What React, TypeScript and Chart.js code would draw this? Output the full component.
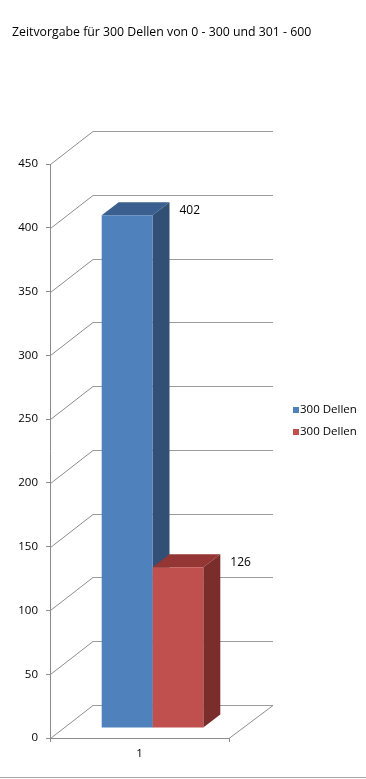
import React, { useEffect, useRef } from "react";
import { Chart, registerables } from "chart.js";

Chart.register(...registerables);

const TITLE = "Zeitvorgabe für 300 Dellen von 0 - 300 und 301 - 600";
const CATEGORIES = ["1"];
const SERIES_LABELS = ["300 Dellen", "300 Dellen"];
const SERIES_A = [402];
const SERIES_B = [126];
const Y_MIN = 0;
const Y_MAX = 450;
const Y_STEP = 50;

const FRONT = ["#4F81BD", "#C0504D"];
const TOP = ["#3B5F8E", "#943634"];
const SIDE = ["#324F76", "#7B2D2B"];
const GRID = "#8C8C8C";
const GRID_BACK = "#9C9C9C";
const FONT = "'Open Sans', sans-serif";

// 3D geometry (pixels)
const WALL_DX = 43;
const WALL_DY = -33;
const BAR_SHIFT_X = 13;
const BAR_SHIFT_Y = -10;
const BAR_DX = 17;
const BAR_DY = -13;

const threeD = {
  id: "threeD",
  beforeDatasetsDraw(chart: any) {
    const { ctx, chartArea: a, scales } = chart;
    const y = scales.y;
    ctx.save();
    ctx.lineWidth = 1;
    for (const t of y.ticks) {
      const py = Math.round(y.getPixelForValue(t.value)) + 0.5;
      ctx.strokeStyle = GRID;
      ctx.beginPath();
      ctx.moveTo(a.left + 0.5, py);
      ctx.lineTo(a.left + WALL_DX, py + WALL_DY);
      ctx.stroke();
      ctx.strokeStyle = GRID_BACK;
      ctx.beginPath();
      ctx.moveTo(a.left + WALL_DX, py + WALL_DY);
      ctx.lineTo(a.right + WALL_DX + 1, py + WALL_DY);
      ctx.stroke();
    }
    const by = Math.round(y.getPixelForValue(Y_MIN)) + 0.5;
    ctx.strokeStyle = GRID;
    ctx.beginPath();
    ctx.moveTo(a.right, by);
    ctx.lineTo(a.right + WALL_DX + 1, by + WALL_DY);
    ctx.stroke();
    ctx.restore();

    ctx.save();
    ctx.translate(BAR_SHIFT_X, BAR_SHIFT_Y);
    chart.data.datasets.forEach((ds: any, i: number) => {
      const meta = chart.getDatasetMeta(i);
      meta.data.forEach((bar: any) => {
        const { x, y: top, base, width } = bar.getProps(["x", "y", "base", "width"], true);
        const l = x - width / 2;
        const r = x + width / 2;
        ctx.fillStyle = TOP[i];
        ctx.beginPath();
        ctx.moveTo(l, top);
        ctx.lineTo(r, top);
        ctx.lineTo(r + BAR_DX, top + BAR_DY);
        ctx.lineTo(l + BAR_DX, top + BAR_DY);
        ctx.closePath();
        ctx.fill();
        ctx.fillStyle = SIDE[i];
        ctx.beginPath();
        ctx.moveTo(r, top);
        ctx.lineTo(r + BAR_DX, top + BAR_DY);
        ctx.lineTo(r + BAR_DX, base + BAR_DY);
        ctx.lineTo(r, base);
        ctx.closePath();
        ctx.fill();
      });
    });
  },
  afterDatasetsDraw(chart: any) {
    const { ctx } = chart;
    ctx.fillStyle = "#000";
    ctx.font = `12px ${FONT}`;
    ctx.textAlign = "left";
    ctx.textBaseline = "middle";
    chart.data.datasets.forEach((ds: any, i: number) => {
      const meta = chart.getDatasetMeta(i);
      meta.data.forEach((bar: any, j: number) => {
        const { x, y: top, width } = bar.getProps(["x", "y", "width"], true);
        ctx.fillText(String(ds.data[j]), x + width / 2 + 27, top - 5);
      });
    });
    ctx.restore();

    // title
    ctx.save();
    ctx.fillStyle = "#000";
    ctx.font = `12.3px ${FONT}`;
    ctx.textAlign = "left";
    ctx.textBaseline = "middle";
    ctx.fillText(TITLE, 12, 32);

    // legend
    ctx.font = `11.5px ${FONT}`;
    chart.data.datasets.forEach((ds: any, i: number) => {
      const cy = 410 + i * 22;
      ctx.fillStyle = FRONT[i];
      ctx.fillRect(293, cy - 3, 6, 6);
      ctx.fillStyle = "#000";
      ctx.fillText(ds.label, 300, cy);
    });

    // bottom border
    ctx.strokeStyle = "#A6A6A6";
    ctx.lineWidth = 1;
    ctx.beginPath();
    ctx.moveTo(0, 777.5);
    ctx.lineTo(366, 777.5);
    ctx.stroke();
    ctx.restore();
  },
};

export default function App() {
  const ref = useRef<HTMLCanvasElement | null>(null);
  useEffect(() => {
    document.body.style.margin = "0";
    const canvas = ref.current;
    if (!canvas) return;
    const chart = new Chart(canvas, {
      type: "bar",
      data: {
        labels: CATEGORIES,
        datasets: [
          { label: SERIES_LABELS[0], data: SERIES_A, backgroundColor: FRONT[0], borderWidth: 0, clip: false } as any,
          { label: SERIES_LABELS[1], data: SERIES_B, backgroundColor: FRONT[1], borderWidth: 0, clip: false } as any,
        ],
      },
      options: {
        responsive: false,
        animation: false,
        devicePixelRatio: 1,
        layout: { padding: { left: 0, right: 137, top: 164, bottom: 0 } },
        datasets: { bar: { categoryPercentage: 0.5676, barPercentage: 1 } },
        plugins: {
          legend: { display: false },
          title: { display: false },
          tooltip: { enabled: false },
        },
        scales: {
          x: {
            offset: true,
            grid: { display: true, offset: true, drawOnChartArea: false, drawTicks: true, tickLength: 4, color: GRID },
            border: { display: true, color: GRID },
            ticks: { color: "#000", font: { family: FONT, size: 11.5 }, padding: 5 },
            afterFit: (s: any) => {
              s.height = 41;
            },
          },
          y: {
            min: Y_MIN,
            max: Y_MAX,
            ticks: { stepSize: Y_STEP, color: "#000", font: { family: FONT, size: 11.5 }, padding: 8 },
            grid: { drawOnChartArea: false, drawTicks: true, tickLength: 4, color: GRID },
            border: { display: true, color: GRID },
            afterFit: (s: any) => {
              s.width = 50;
            },
          },
        },
      } as any,
      plugins: [threeD],
    });
    return () => chart.destroy();
  }, []);
  return (
    <div style={{ position: "absolute", left: 0, top: 0, width: 366, height: 779, background: "#fff" }}>
      <canvas ref={ref} width={366} height={779} />
    </div>
  );
}
